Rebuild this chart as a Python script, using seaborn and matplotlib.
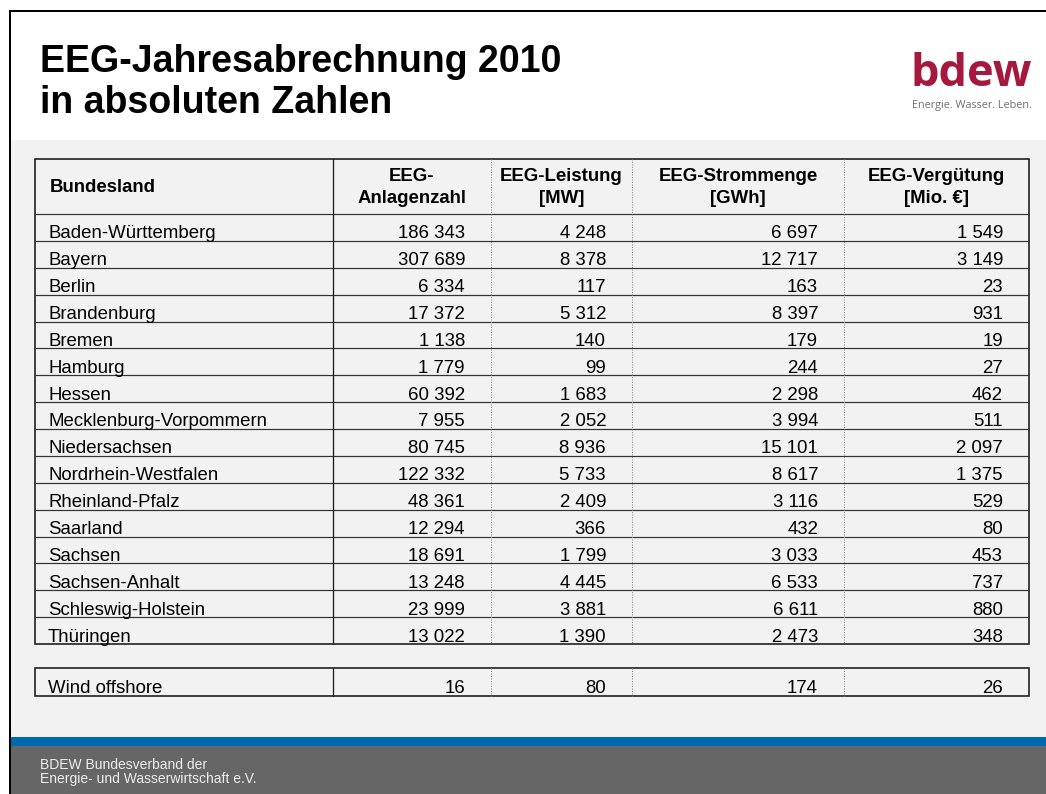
import matplotlib
matplotlib.use("Agg")
import matplotlib.pyplot as plt
import seaborn as sns
from matplotlib.patches import Rectangle

# table content
laender = ["Baden-Württemberg", "Bayern", "Berlin", "Brandenburg", "Bremen",
           "Hamburg", "Hessen", "Mecklenburg-Vorpommern", "Niedersachsen",
           "Nordrhein-Westfalen", "Rheinland-Pfalz", "Saarland", "Sachsen",
           "Sachsen-Anhalt", "Schleswig-Holstein", "Thüringen"]
anlagen = [186343, 307689, 6334, 17372, 1138, 1779, 60392, 7955, 80745,
           122332, 48361, 12294, 18691, 13248, 23999, 13022]
leistung = [4248, 8378, 117, 5312, 140, 99, 1683, 2052, 8936, 5733, 2409,
            366, 1799, 4445, 3881, 1390]
strommenge = [6697, 12717, 163, 8397, 179, 244, 2298, 3994, 15101, 8617,
              3116, 432, 3033, 6533, 6611, 2473]
verguetung = [1549, 3149, 23, 931, 19, 27, 462, 511, 2097, 1375, 529, 80,
              453, 737, 880, 348]
offshore_label = "Wind offshore"
offshore_values = [16, 80, 174, 26]
headers = ["Bundesland", "EEG-\nAnlagenzahl", "EEG-Leistung\n[MW]",
           "EEG-Strommenge\n[GWh]", "EEG-Vergütung\n[Mio. €]"]

sns.set_style("white")
plt.rcParams["font.family"] = ["Liberation Sans", "DejaVu Sans"]
plt.rcParams["text.color"] = "black"


def fmt(v):
    return f"{v:,}".replace(",", " ")


fig = plt.figure(figsize=(10.46, 7.94), dpi=100)
ax = fig.add_axes([0, 0, 1, 1])
ax.set_xlim(0, 1046)
ax.set_ylim(794, 0)
ax.axis("off")

px = 0.72  # points per pixel at 100 dpi

# slide background, footer bands and frame
ax.add_patch(Rectangle((10, 140), 1036, 597, color="#f2f2f2", lw=0))
ax.add_patch(Rectangle((10, 737), 1036, 9, color="#0068ad", lw=0))
ax.add_patch(Rectangle((10, 746), 1036, 48, color="#666666", lw=0))
ax.plot([9.5, 1046], [10.5, 10.5], color="black", lw=2 * px,
        solid_capstyle="butt")
ax.plot([9.5, 9.5], [10, 794], color="black", lw=2 * px,
        solid_capstyle="butt")

ax.text(40, 62, "EEG-Jahresabrechnung 2010", fontsize=27, weight="bold",
        va="center", ha="left")
ax.text(40, 103, "in absoluten Zahlen", fontsize=27, weight="bold",
        va="center", ha="left")

ax.text(971, 86, "bdew", fontsize=32.5, weight="bold", color="#a6193e",
        ha="center", va="baseline", family="Open Sans")
ax.text(972, 108, "Energie. Wasser. Leben.", fontsize=7.8, color="#6e6e6e",
        ha="center", va="baseline", family="Open Sans")

ax.text(40, 765, "BDEW Bundesverband der", fontsize=10, color="#eeeeee",
        va="center")
ax.text(40, 779, "Energie- und Wasserwirtschaft e.V.", fontsize=10,
        color="#eeeeee", va="center")

# table layout
col_edges = [35, 333, 491, 632, 844, 1029]
head_top, head_bot = 159, 214
row_h = (644 - head_bot) / len(laender)
body_bot = head_bot + row_h * len(laender)
off_top, off_bot = 668, 696
fs = 13.4
dark = "#1a1a1a"
pad = 26

# header
ax.text(col_edges[0] + 15, (head_top + head_bot) / 2 + 1, headers[0],
        fontsize=fs, weight="bold", va="center", ha="left")
for j, h in enumerate(headers[1:], start=1):
    cx = (col_edges[j] + col_edges[j + 1]) / 2
    ax.text(cx, (head_top + head_bot) / 2 + 1, h, fontsize=fs, weight="bold",
            va="center", ha="center", linespacing=1.4)

# body rows
columns = [anlagen, leistung, strommenge, verguetung]
for i, name in enumerate(laender):
    base = head_bot + row_h * (i + 1) - 2.5
    ax.text(col_edges[0] + 13, base, name, fontsize=fs, va="baseline")
    for j, col in enumerate(columns, start=1):
        ax.text(col_edges[j + 1] - pad, base, fmt(col[i]), fontsize=fs,
                va="baseline", ha="right")

# offshore row
ax.text(col_edges[0] + 13, off_bot - 3, offshore_label, fontsize=fs,
        va="baseline")
for j, v in enumerate(offshore_values, start=1):
    ax.text(col_edges[j + 1] - pad, off_bot - 3, fmt(v), fontsize=fs,
            va="baseline", ha="right")

# horizontal rules
for k in range(len(laender)):
    y = head_bot + row_h * k
    ax.plot([col_edges[0], col_edges[-1]], [y, y], color="#333333",
            lw=1.2 * px)

# vertical rules
for top, bot in [(head_top, body_bot), (off_top, off_bot)]:
    ax.plot([col_edges[1], col_edges[1]], [top, bot], color=dark, lw=1.3 * px)
    for x in col_edges[2:-1]:
        ax.plot([x, x], [top, bot], color="#888888", lw=1 * px,
                ls=(0, (1, 1.5)))
    ax.add_patch(Rectangle((col_edges[0], top), col_edges[-1] - col_edges[0],
                           bot - top, fill=False, ec=dark, lw=1.6 * px))

fig.savefig("out.png", dpi=100)
